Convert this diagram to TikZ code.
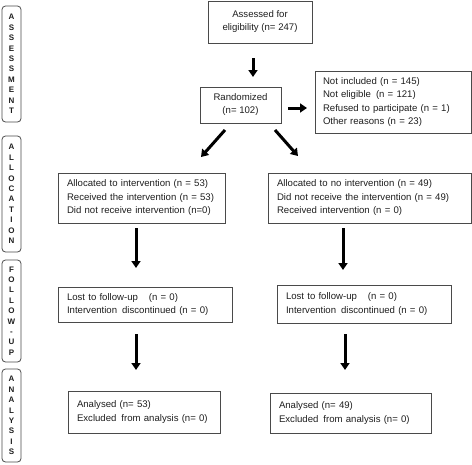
\documentclass[tikz,border=0pt]{standalone}
\usepackage{fontspec}
\setmainfont{Liberation Sans}
\usetikzlibrary{arrows.meta}
\definecolor{boxline}{HTML}{4A4A4A}
\definecolor{txt}{HTML}{1E1E1E}
\tikzset{
  box/.style={draw=boxline, line width=0.8pt, inner xsep=9pt, inner ysep=0pt,
    font=\fontsize{9.6}{13.5}\selectfont, text=txt, align=left},
  cbox/.style={draw=boxline, line width=0.8pt, inner sep=0pt,
    font=\fontsize{9.6}{13}\selectfont, text=txt, align=center},
  phase/.style={draw=boxline, line width=0.8pt, rounded corners=3.5pt, inner sep=0pt,
    minimum width=19pt, font=\bfseries\fontsize{8}{10.4}\selectfont, text=txt, align=center},
  fat/.style={line width=3pt, -{Triangle[width=9pt,length=7pt]}, black}
}
\begin{document}
\begin{tikzpicture}[x=1pt,y=-1pt]
\useasboundingbox (0,0) rectangle (472,464);
% phase labels
\node[phase, minimum height=116pt] (pA) at (11.5,64) {A\\S\\S\\E\\S\\S\\M\\E\\N\\T};
\node[phase, minimum height=116pt] (pB) at (11.5,194) {A\\L\\L\\O\\C\\A\\T\\I\\O\\N};
\node[phase, minimum height=102pt] (pC) at (11.5,311) {F\\O\\L\\L\\O\\W\\-\\U\\P};
\node[phase, minimum height=93pt] (pD) at (11.5,415.5) {A\\N\\A\\L\\Y\\S\\I\\S};
% boxes
\node[cbox, minimum width=104pt, minimum height=42pt] (assess) at (260,22) {Assessed for\\eligibility (n= 247)};
\node[cbox, minimum width=81pt, minimum height=36pt] (rand) at (240.5,105) {Randomized\\(n= 102)};
\node[box, inner xsep=8pt, minimum width=156pt, text width=140pt, minimum height=62pt] (notinc) at (393,102)
  {Not included (n = 145)\\Not eligible\hspace{5pt}(n = 121)\\Refused to participate (n = 1)\\Other reasons (n = 23)};
\node[box, minimum width=167pt, text width=149pt, minimum height=50pt] (alA) at (141.5,198)
  {Allocated to intervention (n = 53)\\Received the intervention (n = 53)\\Did not receive intervention (n=0)};
\node[box, minimum width=203pt, text width=185pt, minimum height=50pt] (alB) at (369.5,198)
  {Allocated to no intervention (n = 49)\\Did not receive the intervention (n = 49)\\Received intervention (n = 0)};
\node[box, minimum width=174pt, text width=156pt, minimum height=35pt] (fuA) at (145,304.5)
  {Lost to follow-up\hspace{11pt}(n = 0)\\Intervention\hspace{5pt}discontinued (n = 0)};
\node[box, minimum width=174pt, text width=156pt, minimum height=38pt] (fuB) at (364,304)
  {Lost to follow-up\hspace{11pt}(n = 0)\\Intervention\hspace{5pt}discontinued (n = 0)};
\node[box, minimum width=152pt, text width=134pt, minimum height=42pt] (anA) at (144,412)
  {Analysed (n= 53)\\Excluded\hspace{5pt}from analysis (n= 0)};
\node[box, minimum width=161pt, text width=143pt, minimum height=40pt] (anB) at (350.5,413)
  {Analysed (n= 49)\\Excluded\hspace{5pt}from analysis (n= 0)};
% arrow end points
\coordinate (s1) at (253,58);  \coordinate (e1) at (253,77);
\coordinate (s2) at (288,108); \coordinate (e2) at (307,108);
\coordinate (s3) at (225,130); \coordinate (e3) at (201,157);
\coordinate (s4) at (275,130); \coordinate (e4) at (298,156);
\coordinate (s5) at (136,228); \coordinate (e5) at (136,268);
\coordinate (s6) at (343,228); \coordinate (e6) at (343,270);
\coordinate (s7) at (136,334); \coordinate (e7) at (136,370);
\coordinate (s8) at (345,334); \coordinate (e8) at (345,370);
\draw[fat] (s1) -- (e1);
\draw[fat] (s2) -- (e2);
\draw[fat] (s3) -- (e3);
\draw[fat] (s4) -- (e4);
\draw[fat] (s5) -- (e5);
\draw[fat] (s6) -- (e6);
\draw[fat] (s7) -- (e7);
\draw[fat] (s8) -- (e8);
\end{tikzpicture}
\end{document}
